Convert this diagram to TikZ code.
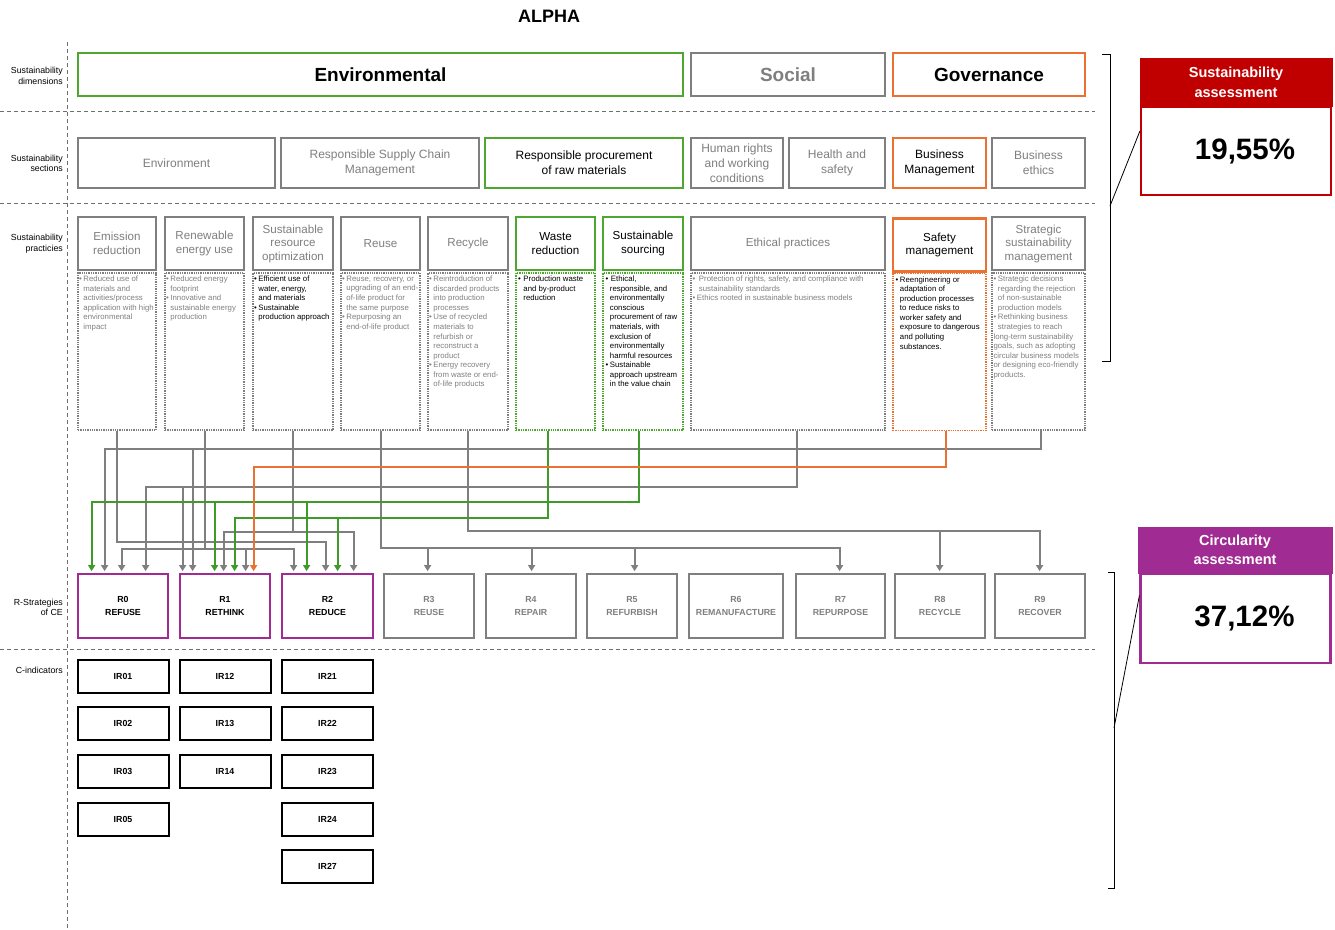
\documentclass[tikz,border=0pt]{standalone}
\usepackage{fontspec}
\setmainfont{Liberation Sans}
\usetikzlibrary{arrows.meta}

\definecolor{envgreen}{HTML}{4EA72E}
\definecolor{lnkgreen}{HTML}{3E9B2A}
\definecolor{govorange}{HTML}{E97132}
\definecolor{midgray}{HTML}{7F7F7F}
\definecolor{descgray}{HTML}{808080}
\definecolor{cepurple}{HTML}{A02B93}
\definecolor{sared}{HTML}{C00000}
\definecolor{rulegray}{HTML}{6E6E6E}

% bullet with hanging indent for the practice descriptions
\newcommand\bul{\makebox[4.4pt][l]{\textbullet}}
\newcommand\ind{\hspace*{4.4pt}}

\tikzset{
  dimbox/.style={draw=#1, line width=2.8pt, minimum height=43pt, inner sep=1pt,
    font=\fontsize{19}{22}\selectfont\bfseries},
  secbox/.style={draw=#1, line width=2.8pt, minimum height=50pt, inner sep=1pt, align=center,
    font=\fontsize{12}{15}\selectfont},
  pracbox/.style={draw=#1, line width=2.8pt, minimum height=53pt, inner sep=1pt, align=center,
    font=\fontsize{11.6}{13.5}\selectfont},
  dotbox/.style={draw=#1, line width=1.3pt, densely dotted, minimum height=157pt},
  desc/.style={anchor=north west, align=left, inner sep=0pt, font=\fontsize{7.8}{9.55}\selectfont},
  rbox/.style={draw=#1, line width=2.8pt, minimum height=64pt, inner sep=1pt, align=center,
    font=\fontsize{8.8}{12.5}\selectfont\bfseries},
  irbox/.style={draw=black, line width=2pt, minimum width=91pt, minimum height=33pt,
    font=\fontsize{8.8}{10}\selectfont\bfseries},
  sidelbl/.style={anchor=east, align=right, inner sep=0pt, font=\fontsize{8.8}{10.5}\selectfont},
  sepline/.style={draw=rulegray, line width=1pt, dash pattern=on 4pt off 3pt},
  con/.style={draw=#1, line width=2pt, -{Triangle[width=7pt,length=6pt]}},
  asshead/.style={fill=#1, draw=#1, line width=1pt, text=white, align=center,
    font=\fontsize{14.5}{19.5}\selectfont\bfseries},
  assbody/.style={draw=#1, line width=2.2pt, font=\fontsize{29.5}{32}\selectfont\bfseries},
  brace/.style={draw=black, line width=0.8pt},
}

\begin{document}
\begin{tikzpicture}[x=1pt,y=-1pt]
\useasboundingbox (0,0) rectangle (1335,929);
\fill[white] (0,0) rectangle (1335,929);

% row separators
\draw[sepline] (67.5,42) -- (67.5,929);
\draw[sepline] (0,111) -- (1095,111);
\draw[sepline] (0,203) -- (1095,203);
\draw[sepline] (0,649) -- (1095,649);

\node[font=\fontsize{18}{20}\selectfont\bfseries] (title) at (549,16) {ALPHA};

% row labels
\node[sidelbl] (lDim) at (63,76) {Sustainability\\dimensions};
\node[sidelbl] (lSec) at (63,163.5) {Sustainability\\sections};
\node[sidelbl] (lPra) at (63,243.5) {Sustainability\\practicies};
\node[sidelbl] (lRs)  at (63,607.5) {R-Strategies\\of CE};
\node[sidelbl] (lCi)  at (63,670) {C-indicators};

% dimensions
\node[dimbox=envgreen, minimum width=605pt] (dimEnv) at (380.5,74.5) {Environmental};
\node[dimbox=midgray, minimum width=194pt, text=midgray] (dimSoc) at (788,74.5) {Social};
\node[dimbox=govorange, minimum width=192pt] (dimGov) at (989,74.5) {Governance};

% sections
\node[secbox=midgray, minimum width=197pt, text=midgray] (sEnv) at (176.5,163) {Environment};
\node[secbox=midgray, minimum width=198pt, text=midgray] (sRsc) at (380,163) {Responsible Supply Chain\\Management};
\node[secbox=envgreen, minimum width=198pt] (sRpr) at (584,163) {Responsible procurement\\of raw materials};
\node[secbox=midgray, minimum width=92pt, text=midgray] (sHr) at (737,163) {Human rights\\and working\\conditions};
\node[secbox=midgray, minimum width=96pt, text=midgray] (sHs) at (837,163) {Health and\\safety};
\node[secbox=govorange, minimum width=93pt] (sBm) at (939.5,163) {Business\\Management};
\node[secbox=midgray, minimum width=93pt, text=midgray] (sBe) at (1038.5,163) {Business\\ethics};

% practices
\node[pracbox=midgray, minimum width=78pt, text=midgray] (pEm)  at (117,243.5) {Emission\\reduction};
\node[pracbox=midgray, minimum width=79pt, text=midgray] (pRen) at (204.5,243.5) {Renewable\\energy use};
\node[pracbox=midgray, minimum width=80pt, text=midgray] (pSro) at (293,243.5) {Sustainable\\resource\\optimization};
\node[pracbox=midgray, minimum width=79pt, text=midgray] (pReu) at (380.5,243.5) {Reuse};
\node[pracbox=midgray, minimum width=80pt, text=midgray] (pRec) at (468,243.5) {Recycle};
\node[pracbox=envgreen, minimum width=79pt] (pWas) at (555.5,243.5) {Waste\\reduction};
\node[pracbox=envgreen, minimum width=80pt] (pSrc) at (643,243.5) {Sustainable\\sourcing};
\node[pracbox=midgray, minimum width=194pt, text=midgray] (pEth) at (788,243.5) {Ethical practices};
\node[pracbox=govorange, minimum width=93pt] (pSaf) at (939.5,245) {Safety\\management};
\node[pracbox=midgray, minimum width=93pt, text=midgray] (pStr) at (1038.5,243.5) {Strategic\\sustainability\\management};

% practice descriptions
\node[dotbox=midgray, minimum width=78pt]  (dEm)  at (117,351.5) {};
\node[dotbox=midgray, minimum width=79pt]  (dRen) at (204.5,351.5) {};
\node[dotbox=midgray, minimum width=80pt]  (dSro) at (293,351.5) {};
\node[dotbox=midgray, minimum width=79pt]  (dReu) at (380.5,351.5) {};
\node[dotbox=midgray, minimum width=80pt]  (dRec) at (468,351.5) {};
\node[dotbox=envgreen, minimum width=79pt] (dWas) at (555.5,351.5) {};
\node[dotbox=envgreen, minimum width=80pt] (dSrc) at (643,351.5) {};
\node[dotbox=midgray, minimum width=194pt] (dEth) at (788,351.5) {};
\node[dotbox=govorange, minimum width=93pt] (dSaf) at (939.5,352) {};
\node[dotbox=midgray, minimum width=93pt]  (dStr) at (1038.5,351.5) {};

\node[desc, text=descgray] (tEm) at ([xshift=1.5pt,yshift=-3.5pt]dEm.north west)
  {\bul Reduced use of\\ \ind materials and\\ \ind activities/process\\ \ind application with high\\ \ind environmental\\ \ind impact};
\node[desc, text=descgray] (tRen) at ([xshift=1.5pt,yshift=-3.5pt]dRen.north west)
  {\bul Reduced energy\\ \ind footprint\\ \bul Innovative and\\ \ind sustainable energy\\ \ind production};
\node[desc, text=black] (tSro) at ([xshift=1.5pt,yshift=-3.5pt]dSro.north west)
  {\bul Efficient use of\\ \ind water, energy,\\ \ind and materials\\ \bul Sustainable\\ \ind production approach};
\node[desc, text=descgray] (tReu) at ([xshift=1.5pt,yshift=-3.5pt]dReu.north west)
  {\bul Reuse, recovery, or\\ \ind upgrading of an end-\\ \ind of-life product for\\ \ind the same purpose\\ \bul Repurposing an\\ \ind end-of-life product};
\node[desc, text=descgray] (tRec) at ([xshift=1.5pt,yshift=-3.5pt]dRec.north west)
  {\bul Reintroduction of\\ \ind discarded products\\ \ind into production\\ \ind processes\\ \bul Use of recycled\\ \ind materials to\\ \ind refurbish or\\ \ind reconstruct a\\ \ind product\\ \bul Energy recovery\\ \ind from waste or end-\\ \ind of-life products};
\node[desc, text=black] (tWas) at ([xshift=2.5pt,yshift=-3.5pt]dWas.north west)
  {\bul\hspace{1pt}Production waste\\ \ind\hspace{1pt}and by-product\\ \ind\hspace{1pt}reduction};
\node[desc, text=black] (tSrc) at ([xshift=3pt,yshift=-3.5pt]dSrc.north west)
  {\bul\hspace{1pt}Ethical,\\ \ind responsible, and\\ \ind environmentally\\ \ind conscious\\ \ind procurement of raw\\ \ind materials, with\\ \ind exclusion of\\ \ind environmentally\\ \ind harmful resources\\ \bul Sustainable\\ \ind approach upstream\\ \ind in the value chain};
\node[desc, text=descgray] (tEth) at ([xshift=2pt,yshift=-3.5pt]dEth.north west)
  {\bul\hspace{2pt}Protection of rights, safety, and compliance with\\ \ind\hspace{2pt}sustainability standards\\ \bul Ethics rooted in sustainable business models};
\node[desc, text=black] (tSaf) at ([xshift=3pt,yshift=-3.5pt]dSaf.north west)
  {\bul Reengineering or\\ \ind adaptation of\\ \ind production processes\\ \ind to reduce risks to\\ \ind worker safety and\\ \ind exposure to dangerous\\ \ind and polluting\\ \ind substances.};
\node[desc, text=descgray] (tStr) at ([xshift=2pt,yshift=-3.5pt]dStr.north west)
  {\bul Strategic decisions\\ \ind regarding\ the rejection\\ \ind of non-sustainable\\ \ind production models\\ \bul Rethinking business\\ \ind strategies to reach\\ long-term sustainability\\ goals, such as adopting\\ circular business models\\ or designing eco-friendly\\ products.};

% R-strategies
\node[rbox=cepurple, minimum width=90pt] (R0) at (123,606) {R0\\REFUSE};
\node[rbox=cepurple, minimum width=90pt] (R1) at (225,606) {R1\\RETHINK};
\node[rbox=cepurple, minimum width=91pt] (R2) at (327.5,606) {R2\\REDUCE};
\node[rbox=midgray, minimum width=90pt, text=midgray] (R3) at (429,606) {R3\\REUSE};
\node[rbox=midgray, minimum width=90pt, text=midgray] (R4) at (531,606) {R4\\REPAIR};
\node[rbox=midgray, minimum width=90pt, text=midgray] (R5) at (632,606) {R5\\REFURBISH};
\node[rbox=midgray, minimum width=94pt, text=midgray] (R6) at (736,606) {R6\\REMANUFACTURE};
\node[rbox=midgray, minimum width=89pt, text=midgray] (R7) at (840.5,606) {R7\\REPURPOSE};
\node[rbox=midgray, minimum width=90pt, text=midgray] (R8) at (940,606) {R8\\RECYCLE};
\node[rbox=midgray, minimum width=90pt, text=midgray] (R9) at (1040,606) {R9\\RECOVER};

% C-indicators
\node[irbox] (IR01) at (123,676) {IR01};
\node[irbox] (IR02) at (123,723.5) {IR02};
\node[irbox] (IR03) at (123,771) {IR03};
\node[irbox] (IR05) at (123,819) {IR05};
\node[irbox] (IR12) at (225,676) {IR12};
\node[irbox] (IR13) at (225,723.5) {IR13};
\node[irbox] (IR14) at (225,771) {IR14};
\node[irbox] (IR21) at (327.5,676) {IR21};
\node[irbox] (IR22) at (327.5,723.5) {IR22};
\node[irbox] (IR23) at (327.5,771) {IR23};
\node[irbox] (IR24) at (327.5,819) {IR24};
\node[irbox] (IR27) at (327.5,866.5) {IR27};

% connector sources
\coordinate (sEm)  at (dEm.south);
\coordinate (sRen) at (dRen.south);
\coordinate (sSro) at (dSro.south);
\coordinate (sReu) at (dReu.south);
\coordinate (sRec) at (dRec.south);
\coordinate (sWas) at ([xshift=-7.5pt]dWas.south);
\coordinate (sSrc) at ([xshift=-4pt]dSrc.south);
\coordinate (sEth) at ([xshift=9pt]dEth.south);
\coordinate (sSaf) at ([xshift=6pt]dSaf.south);
\coordinate (sStr) at ([xshift=2.5pt]dStr.south);

% horizontal bus levels
\coordinate (yStr) at (0,448.5);
\coordinate (ySaf) at (0,466.5);
\coordinate (yEth) at (0,487);
\coordinate (ySrc) at (0,502);
\coordinate (yWas) at (0,518);
\coordinate (ySro) at (0,531.5);
\coordinate (yRec) at (0,531);
\coordinate (yEm)  at (0,542);
\coordinate (yRen) at (0,549);
\coordinate (yReu) at (0,548);

% entry points on the R-strategy boxes
\coordinate (r0a) at ([xshift=15pt,yshift=1.5pt]R0.north west);
\coordinate (r0b) at ([xshift=28pt,yshift=1.5pt]R0.north west);
\coordinate (r0c) at ([xshift=45pt,yshift=1.5pt]R0.north west);
\coordinate (r0d) at ([xshift=69pt,yshift=1.5pt]R0.north west);
\coordinate (r1a) at ([xshift=4pt,yshift=1.5pt]R1.north west);
\coordinate (r1b) at ([xshift=14pt,yshift=1.5pt]R1.north west);
\coordinate (r1c) at ([xshift=36pt,yshift=1.5pt]R1.north west);
\coordinate (r1d) at ([xshift=45pt,yshift=1.5pt]R1.north west);
\coordinate (r1e) at ([xshift=56pt,yshift=1.5pt]R1.north west);
\coordinate (r1f) at ([xshift=67pt,yshift=1.5pt]R1.north west);
\coordinate (r1g) at ([xshift=75pt,yshift=1.5pt]R1.north west);
\coordinate (r2a) at ([xshift=13pt,yshift=1.5pt]R2.north west);
\coordinate (r2b) at ([xshift=26pt,yshift=1.5pt]R2.north west);
\coordinate (r2c) at ([xshift=45pt,yshift=1.5pt]R2.north west);
\coordinate (r2d) at ([xshift=57pt,yshift=1.5pt]R2.north west);
\coordinate (r2e) at ([xshift=73pt,yshift=1.5pt]R2.north west);
\coordinate (r3a) at ([xshift=45pt,yshift=1.5pt]R3.north west);
\coordinate (r4a) at ([xshift=47pt,yshift=1.5pt]R4.north west);
\coordinate (r5a) at ([xshift=49pt,yshift=1.5pt]R5.north west);
\coordinate (r7a) at ([xshift=45pt,yshift=1.5pt]R7.north west);
\coordinate (r8a) at ([xshift=46pt,yshift=1.5pt]R8.north west);
\coordinate (r9a) at ([xshift=46pt,yshift=1.5pt]R9.north west);

% gray links
\foreach \t in {r0b,r1b} \draw[con=midgray] (sStr) |- (yStr -| \t) -- (\t);
\foreach \t in {r0d,r1a} \draw[con=midgray] (sEth) |- (yEth -| \t) -- (\t);
\foreach \t in {r1d,r2e} \draw[con=midgray] (sSro) |- (ySro -| \t) -- (\t);
\foreach \t in {r8a,r9a} \draw[con=midgray] (sRec) |- (yRec -| \t) -- (\t);
\foreach \t in {r2c} \draw[con=midgray] (sEm) |- (yEm -| \t) -- (\t);
\foreach \t in {r0c,r1f,r2a} \draw[con=midgray] (sRen) |- (yRen -| \t) -- (\t);
\foreach \t in {r3a,r4a,r5a,r7a} \draw[con=midgray] (sReu) |- (yReu -| \t) -- (\t);
% green links
\foreach \t in {r0a,r1c,r2b} \draw[con=lnkgreen] (sSrc) |- (ySrc -| \t) -- (\t);
\foreach \t in {r1e,r2d} \draw[con=lnkgreen] (sWas) |- (yWas -| \t) -- (\t);
% orange link
\draw[con=govorange] (sSaf) |- (ySaf -| r1g) -- (r1g);

% assessment panels
\node[asshead=sared, minimum width=192pt, minimum height=48pt] (saHead) at (1236,82.5) {Sustainability\\assessment};
\node[assbody=sared, minimum width=190pt, minimum height=88pt] (saBody) at (1236,151) {\hspace*{18pt}19,55\%};
\node[asshead=cepurple, minimum width=194pt, minimum height=46pt] (ciHead) at (1235,550) {Circularity\\assessment};
\node[assbody=cepurple, minimum width=190pt, minimum height=89pt] (ciBody) at (1235.5,618.5) {\hspace*{18pt}37,12\%};

% braces grouping the rows
\draw[brace] (1102,54) -- (1110,54) -- (1110,361) -- (1102,361);
\draw[brace] (1108,572) -- (1114,572) -- (1114,888) -- (1108,888);
\coordinate (brA) at (1110,206);
\coordinate (brB) at (1114,728);
\coordinate (saIn) at ([yshift=20pt]saBody.west);
\coordinate (ciIn) at ([yshift=23pt]ciBody.west);
\draw[brace] (brA) -- (saIn);
\draw[brace] (brB) -- (ciIn);

\end{tikzpicture}
\end{document}
